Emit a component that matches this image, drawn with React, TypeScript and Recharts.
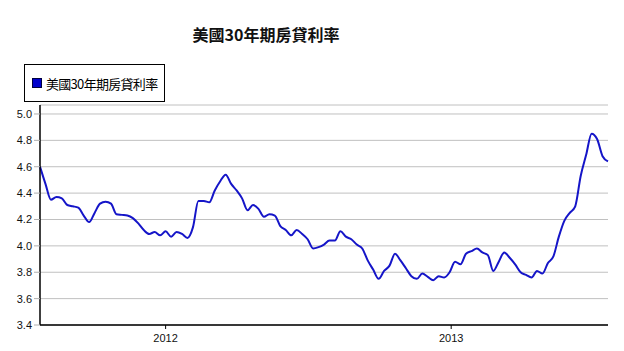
import React from "react";
import {
  LineChart,
  Line,
  XAxis,
  YAxis,
  CartesianGrid,
  Legend,
} from "recharts";

const SERIES_NAME = "美國30年期房貸利率";
const TITLE = "美國30年期房貸利率";

// weekly readings, starting late July 2011
const START_DATE = Date.UTC(2011, 6, 24);
const WEEK_MS = 7 * 24 * 3600 * 1000;

const rates = [
  4.6, 4.47, 4.35, 4.37, 4.36, 4.31, 4.3, 4.29, 4.23, 4.18,
  4.25, 4.32, 4.335, 4.32, 4.24, 4.235, 4.23, 4.21, 4.17, 4.12,
  4.09, 4.105, 4.08, 4.11, 4.07, 4.105, 4.09, 4.06, 4.14, 4.34,
  4.34, 4.33, 4.42, 4.49, 4.54, 4.47, 4.42, 4.36, 4.27, 4.31,
  4.28, 4.22, 4.24, 4.23, 4.15, 4.12, 4.08, 4.12, 4.09, 4.05,
  3.98, 3.99, 4.01, 4.04, 4.04, 4.11, 4.07, 4.05, 4.01, 3.98,
  3.89, 3.82, 3.75, 3.81, 3.85, 3.94, 3.89, 3.83, 3.77, 3.75,
  3.79, 3.765, 3.74, 3.77, 3.76, 3.8, 3.88, 3.86, 3.94, 3.96,
  3.98, 3.95, 3.93, 3.81, 3.88, 3.95, 3.91, 3.86, 3.8, 3.78,
  3.76, 3.81, 3.79, 3.87, 3.92, 4.07, 4.19, 4.25, 4.3, 4.53,
  4.69, 4.85, 4.81, 4.68, 4.64,
];

const yearTicks = [Date.UTC(2012, 0, 1), Date.UTC(2013, 0, 1)];
const rateTicks = [3.4, 3.6, 3.8, 4.0, 4.2, 4.4, 4.6, 4.8, 5.0];

const data = rates.map((rate, i) => ({
  date: START_DATE + i * WEEK_MS,
  rate,
}));

const LATIN = '"Liberation Sans", Arial, sans-serif';
const CJK = '"Noto Sans CJK TC", "Noto Sans CJK SC", sans-serif';

function LegendBox() {
  return (
    <div
      style={{
        width: 139,
        height: 36,
        border: "1px solid #000",
        background: "#fff",
        display: "flex",
        alignItems: "center",
        boxSizing: "content-box",
      }}
    >
      <span
        style={{
          display: "inline-block",
          width: 8,
          height: 8,
          background: "#0000cc",
          border: "1px solid #000040",
          marginLeft: 7,
          marginRight: 4,
        }}
      />
      <span
        style={{
          fontFamily: CJK,
          fontSize: 13,
          letterSpacing: -0.7,
          color: "#000",
          whiteSpace: "nowrap",
        }}
      >
        {SERIES_NAME}
      </span>
    </div>
  );
}

export default function App() {
  return (
    <div style={{ position: "relative", width: 624, height: 351, background: "#fff" }}>
      <style>{"body{margin:0}"}</style>
      <div
        style={{
          position: "absolute",
          top: 22,
          left: 0,
          width: 532,
          textAlign: "center",
          fontFamily: CJK,
          fontWeight: 700,
          fontSize: 16,
          lineHeight: "24px",
          color: "#111",
        }}
      >
        {TITLE}
      </div>
      <LineChart
        width={624}
        height={351}
        data={data}
        margin={{ top: 105, right: 16, bottom: 0, left: 0 }}
      >
        <CartesianGrid
          horizontal
          vertical={false}
          stroke="#c0c0c0"
          strokeWidth={1}
        />
        <XAxis
          type="number"
          dataKey="date"
          domain={["dataMin", "dataMax"]}
          ticks={yearTicks}
          tickFormatter={(t: number) => String(new Date(t).getUTCFullYear())}
          height={26}
          tickSize={4}
          tickMargin={5}
          axisLine={{ stroke: "#000", strokeWidth: 1.5 }}
          tickLine={{ stroke: "#000" }}
          tick={{ fontSize: 11, fill: "#111", fontFamily: LATIN }}
        />
        <YAxis
          type="number"
          domain={[3.4, 5.068]}
          ticks={rateTicks}
          tickFormatter={(v: number) => v.toFixed(1)}
          width={40}
          tickSize={6}
          tickMargin={2}
          axisLine={{ stroke: "#000", strokeWidth: 1.5 }}
          tickLine={{ stroke: "#b0b0b0" }}
          tick={{ fontSize: 11, fill: "#111", fontFamily: LATIN }}
          allowDataOverflow
        />
        <Legend
          layout="horizontal"
          verticalAlign="middle"
          align="center"
          content={() => <LegendBox />}
          wrapperStyle={{ top: 64, left: 24, width: 141, height: 38 }}
        />
        <Line
          type="monotone"
          dataKey="rate"
          name={SERIES_NAME}
          stroke="#1515c8"
          strokeWidth={2}
          dot={false}
          activeDot={false}
          isAnimationActive={false}
        />
      </LineChart>
    </div>
  );
}
